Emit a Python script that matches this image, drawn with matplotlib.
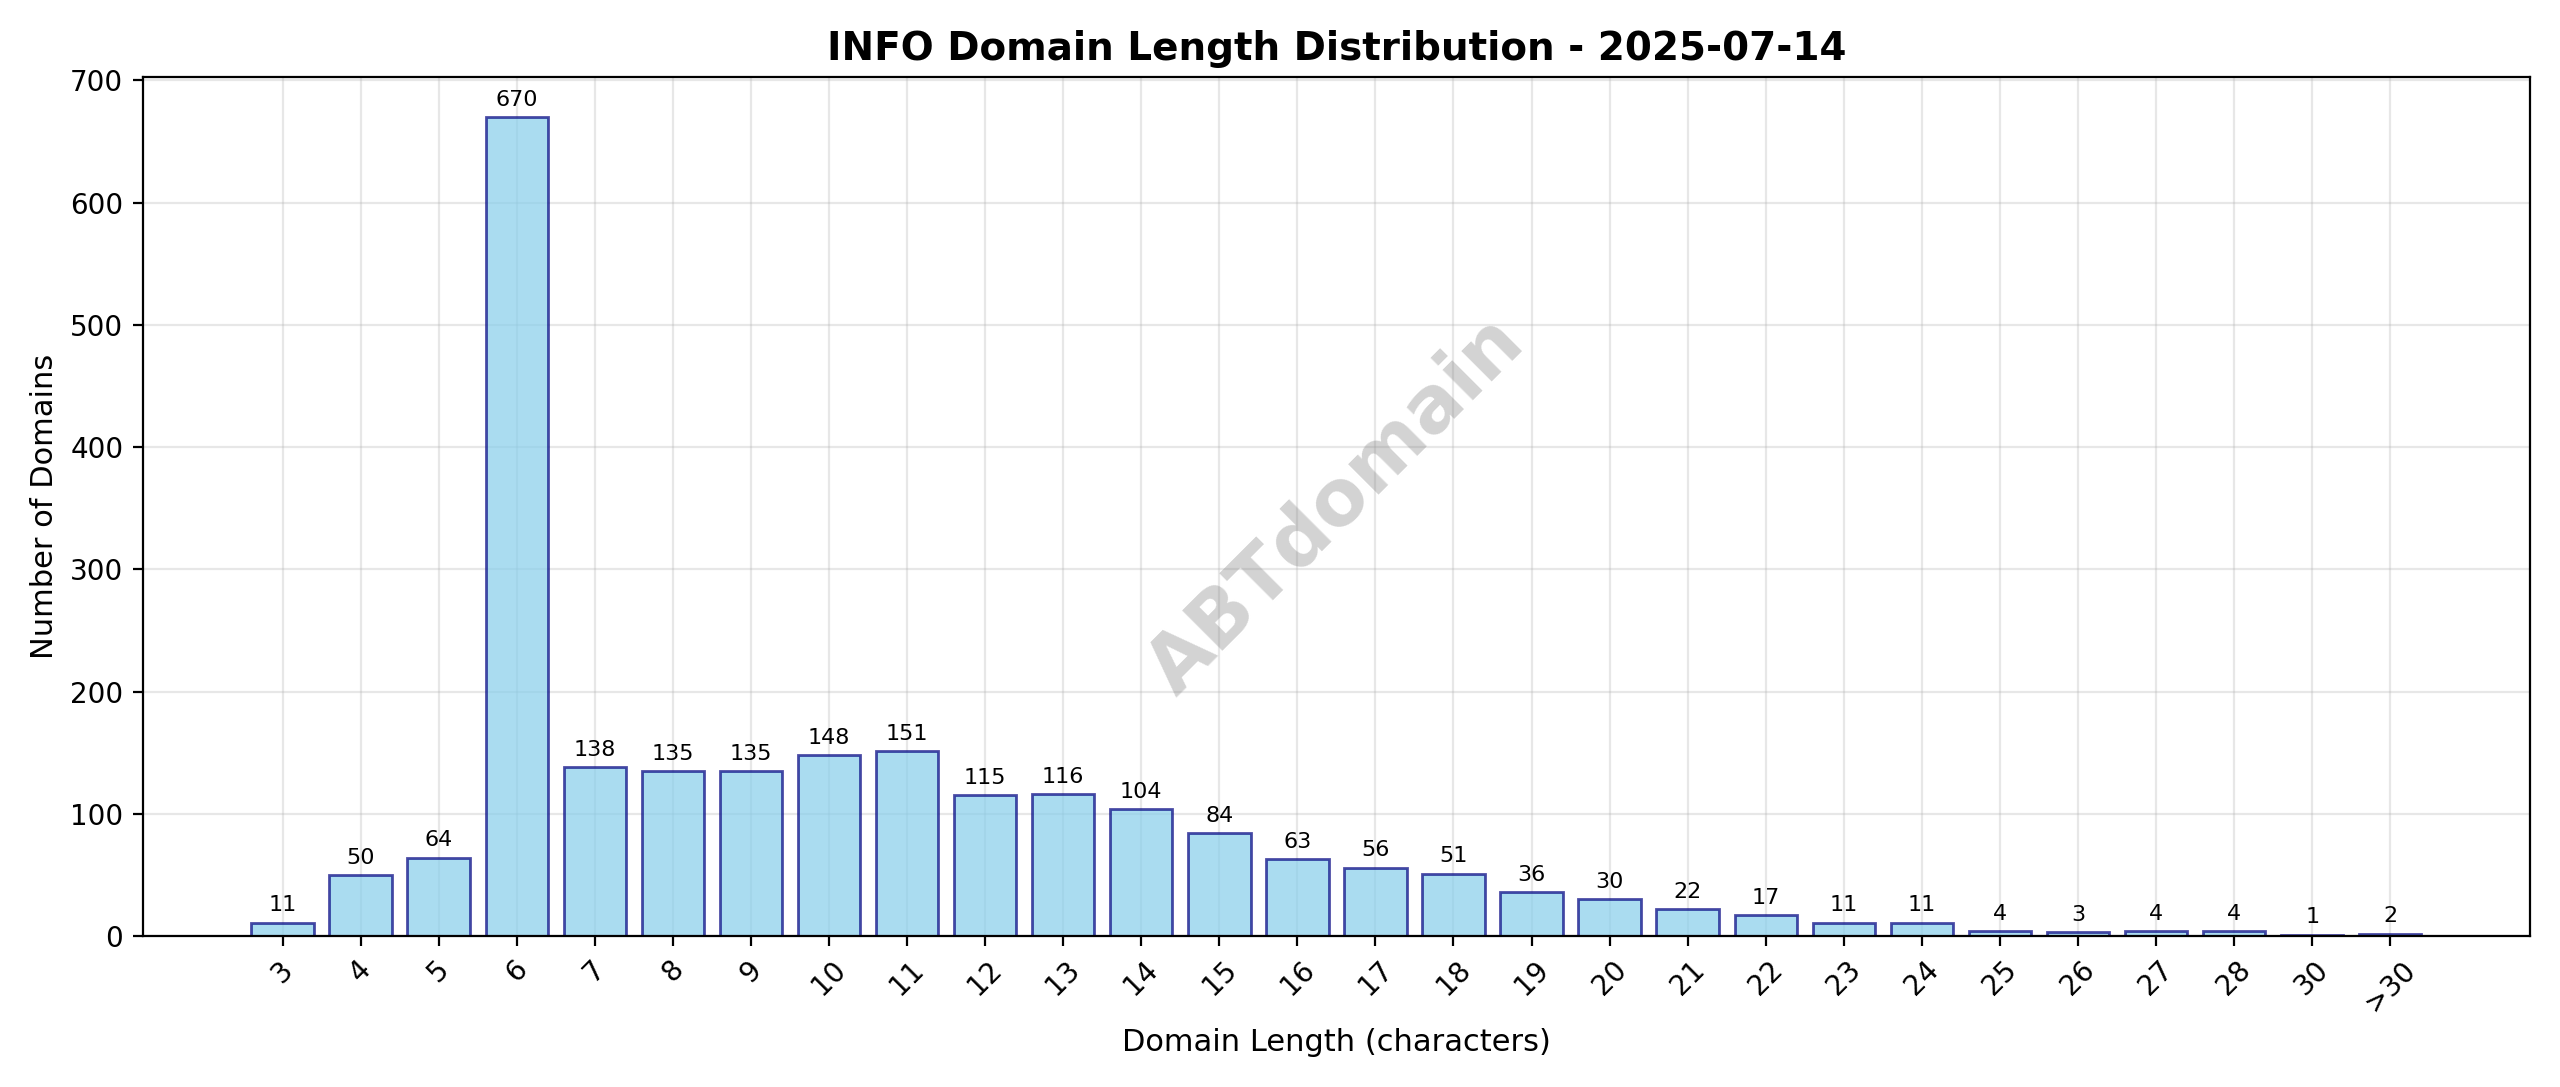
import matplotlib
matplotlib.use("Agg")
import matplotlib.pyplot as plt

categories = ["3","4","5","6","7","8","9","10","11","12","13","14","15","16","17","18","19","20","21","22","23","24","25","26","27","28","30",">30"]
counts = [11,50,64,670,138,135,135,148,151,115,116,104,84,63,56,51,36,30,22,17,11,11,4,3,4,4,1,2]

fig, ax = plt.subplots(figsize=(12.8, 5.435), dpi=200)
x = range(len(categories))
bars = ax.bar(x, counts, color="skyblue", alpha=0.7, edgecolor="navy", linewidth=1)
for xi, v in zip(x, counts):
    ax.text(xi, v + 6, str(v), ha="center", va="bottom", fontsize=8)
ax.set_xticks(list(x))
ax.set_xticklabels(categories, rotation=45)
ax.set_title("INFO Domain Length Distribution - 2025-07-14", fontsize=14, fontweight="bold")
ax.set_xlabel("Domain Length (characters)", fontsize=11)
ax.set_ylabel("Number of Domains", fontsize=11)
ax.grid(True, alpha=0.3)
ax.set_axisbelow(True)
ax.set_ylim(0, 703)
ax.text(0.5, 0.5, "ABTdomain", transform=ax.transAxes, fontsize=28, fontweight="bold",
        color="gray", alpha=0.35, rotation=45, ha="center", va="center")
fig.tight_layout()
fig.savefig("out.png", dpi=200)
